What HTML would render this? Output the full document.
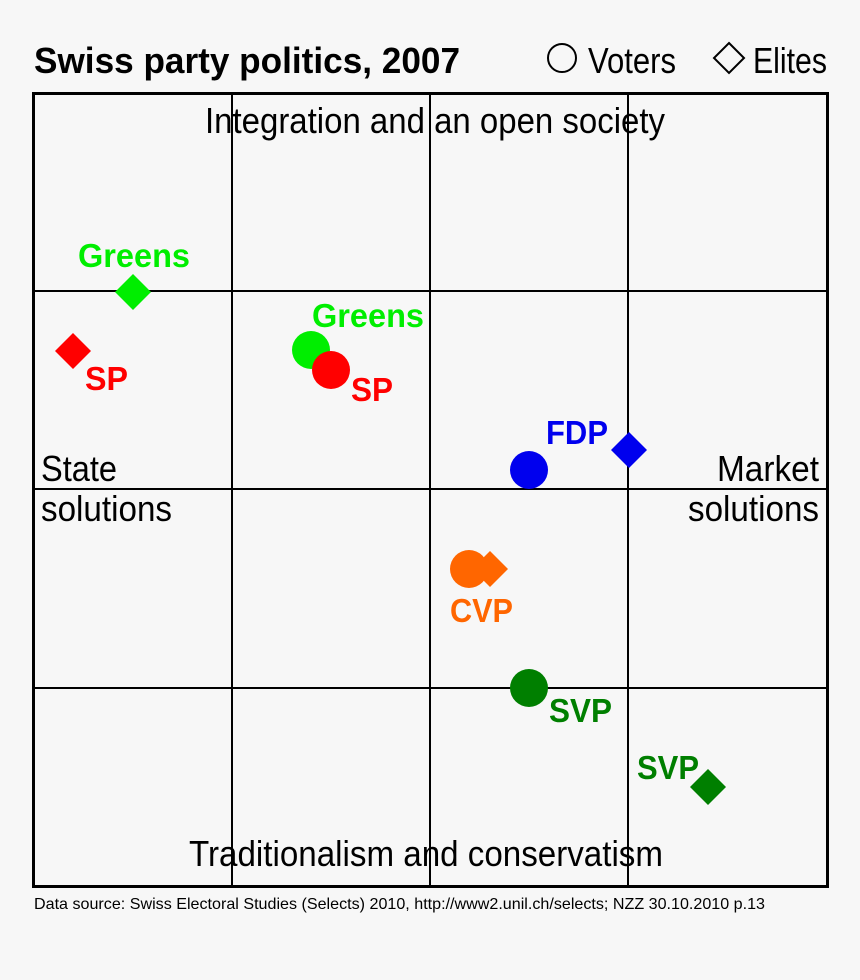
<!DOCTYPE html>
<html><head><meta charset="utf-8"><style>
html,body{margin:0;padding:0;background:#f7f7f7;}
svg{display:block;}
text{font-family:"Liberation Sans",sans-serif;}
.b{font-weight:bold;}
</style></head><body>
<svg width="860" height="980" viewBox="0 0 860 980" xmlns="http://www.w3.org/2000/svg">
<rect width="860" height="980" fill="#f7f7f7"/>
<text x="34" y="73" font-size="36" class="b" textLength="426" lengthAdjust="spacingAndGlyphs">Swiss party politics, 2007</text>
<circle cx="562" cy="58" r="14" fill="none" stroke="#000" stroke-width="2"/>
<text x="588" y="73" font-size="36" textLength="88" lengthAdjust="spacingAndGlyphs">Voters</text>
<polygon points="729,43 744,58 729,73 714,58" fill="none" stroke="#000" stroke-width="2"/>
<text x="753" y="73" font-size="36" textLength="74" lengthAdjust="spacingAndGlyphs">Elites</text>
<g stroke="#000" stroke-width="2">
<line x1="232" y1="93" x2="232" y2="887"/><line x1="430" y1="93" x2="430" y2="887"/><line x1="628" y1="93" x2="628" y2="887"/>
<line x1="33" y1="291" x2="828" y2="291"/><line x1="33" y1="489" x2="828" y2="489"/><line x1="33" y1="688" x2="828" y2="688"/>
</g>
<rect x="33.5" y="93.5" width="794" height="793" fill="none" stroke="#000" stroke-width="3"/>
<text x="205" y="133" font-size="36" textLength="460" lengthAdjust="spacingAndGlyphs">Integration and an open society</text>
<text x="41" y="481" font-size="36" textLength="76" lengthAdjust="spacingAndGlyphs">State</text>
<text x="41" y="521" font-size="36" textLength="131" lengthAdjust="spacingAndGlyphs">solutions</text>
<text x="717" y="481" font-size="36" textLength="102" lengthAdjust="spacingAndGlyphs">Market</text>
<text x="688" y="521" font-size="36" textLength="131" lengthAdjust="spacingAndGlyphs">solutions</text>
<text x="189" y="866" font-size="36" textLength="474" lengthAdjust="spacingAndGlyphs">Traditionalism and conservatism</text>
<text x="34" y="909" font-size="16" textLength="731" lengthAdjust="spacingAndGlyphs">Data source: Swiss Electoral Studies (Selects) 2010, http://www2.unil.ch/selects; NZZ 30.10.2010 p.13</text>

<polygon points="133,274 151,292 133,310 115,292" fill="#00ee00"/>
<text x="78" y="267" font-size="33" class="b" fill="#00ee00" textLength="112" lengthAdjust="spacingAndGlyphs">Greens</text>
<polygon points="73,333 91,351 73,369 55,351" fill="#ff0000"/>
<text x="85" y="390" font-size="33" class="b" fill="#ff0000" textLength="43" lengthAdjust="spacingAndGlyphs">SP</text>
<circle cx="311" cy="350" r="19" fill="#00ee00"/>
<circle cx="331" cy="370" r="19" fill="#ff0000"/>
<text x="312" y="327" font-size="33" class="b" fill="#00ee00" textLength="112" lengthAdjust="spacingAndGlyphs">Greens</text>
<text x="351" y="401" font-size="33" class="b" fill="#ff0000" textLength="42" lengthAdjust="spacingAndGlyphs">SP</text>
<circle cx="529" cy="470" r="19" fill="#0000ee"/>
<polygon points="629,432 647,450 629,468 611,450" fill="#0000ee"/>
<text x="546" y="444" font-size="33" class="b" fill="#0000ee" textLength="62" lengthAdjust="spacingAndGlyphs">FDP</text>
<polygon points="490,551 508,569 490,587 472,569" fill="#ff6600"/>
<circle cx="469" cy="569" r="19" fill="#ff6600"/>
<text x="450" y="622" font-size="33" class="b" fill="#ff6600" textLength="63" lengthAdjust="spacingAndGlyphs">CVP</text>
<circle cx="529" cy="688" r="19" fill="#007f00"/>
<text x="549" y="722" font-size="33" class="b" fill="#007f00" textLength="63" lengthAdjust="spacingAndGlyphs">SVP</text>
<polygon points="708,769 726,787 708,805 690,787" fill="#007f00"/>
<text x="637" y="779" font-size="33" class="b" fill="#007f00" textLength="62" lengthAdjust="spacingAndGlyphs">SVP</text>
</svg>
</body></html>
